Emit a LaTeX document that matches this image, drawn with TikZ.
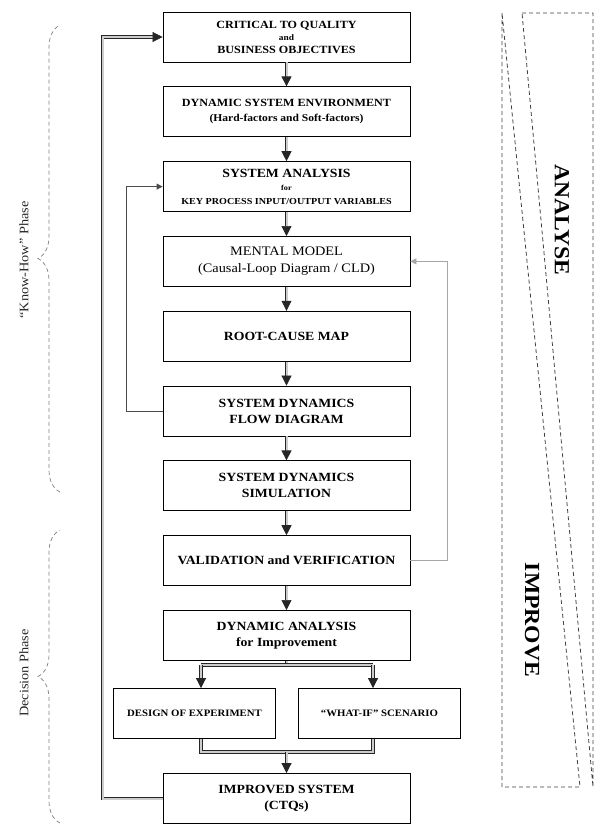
\documentclass[tikz,border=0pt]{standalone}
\usepackage{fontspec}
\setmainfont[FakeStretch=1.1]{Liberation Serif}
\usetikzlibrary{positioning,arrows.meta,decorations.pathreplacing}

\tikzset{
  box/.style={draw, line width=0.8pt, minimum width=247pt, minimum height=50pt,
    inner sep=2pt, align=center, font=\bfseries\fontsize{12.5}{16}\selectfont},
  sidebox/.style={box, minimum width=162pt, font=\bfseries\fontsize{9.8}{12}\selectfont},
  flow/.style={draw=black!85, double=gray!40, double distance=2pt, line width=0.7pt,
    -{Triangle[width=10pt,length=10pt]}},
  bar/.style={draw=black!85, double=gray!40, double distance=2pt, line width=0.7pt},
  loopline/.style={draw=black!70, line width=0.8pt, -{Triangle[width=6pt,length=6pt]}},
  phasebrace/.style={draw=gray, line width=0.7pt, dash pattern=on 4pt off 3pt,
    decorate, decoration={brace, amplitude=22pt}},
  phaselabel/.style={rotate=90, font=\fontsize{13}{15}\selectfont, text=black!85},
  stage/.style={dash pattern=on 4pt off 3pt, draw=black!75, line width=0.8pt},
  stagelabel/.style={rotate=-90, font=\bfseries\fontsize{21.5}{24}\selectfont}
}

\begin{document}
\begin{tikzpicture}[x=1pt, y=-1pt, node distance=24pt]
\useasboundingbox (0,0) rectangle (595,825);

% main chain
\node (ctq) [box, font=\bfseries\fontsize{11}{14}\selectfont] at (286.5,37) {CRITICAL TO QUALITY\\[-2pt]{\fontsize{8.5}{9}\selectfont and}\\[-1pt]BUSINESS OBJECTIVES};
\node (dse) [box, below=of ctq, font=\bfseries\fontsize{11}{15}\selectfont] {DYNAMIC SYSTEM ENVIRONMENT\\{\fontsize{10.5}{12}\selectfont (Hard-factors and Soft-factors)}};
\node (sysan) [box, below=of dse] {SYSTEM ANALYSIS\\[-3pt]{\fontsize{7.5}{8}\selectfont for}\\[-2pt]{\fontsize{9.2}{10}\selectfont KEY PROCESS INPUT/OUTPUT VARIABLES}};
\node (mental) [box, below=of sysan, font=\fontsize{13}{17}\selectfont] {MENTAL MODEL\\(Causal-Loop Diagram / CLD)};
\node (rootcause) [box, below=of mental] {ROOT-CAUSE MAP};
\node (sdflow) [box, below=of rootcause] {SYSTEM DYNAMICS\\FLOW DIAGRAM};
\node (sdsim) [box, below=of sdflow] {SYSTEM DYNAMICS\\SIMULATION};
\node (valid) [box, below=of sdsim] {VALIDATION and VERIFICATION};
\node (dynan) [box, below=of valid] {DYNAMIC ANALYSIS\\for Improvement};

\node (doe) [sidebox] at (194.5,713.5) {DESIGN OF EXPERIMENT};
\node (whatif) [sidebox] at (379.5,713.5) {``WHAT-IF'' SCENARIO};
\node (improved) [box] at (286.5,798.5) {IMPROVED SYSTEM\\(CTQs)};

\foreach \a/\b in {ctq/dse, dse/sysan, sysan/mental, mental/rootcause,
                   rootcause/sdflow, sdflow/sdsim, sdsim/valid, valid/dynan}
  \draw[flow] (\a) -- (\b);

% split and join
\coordinate (sl) at (201,665);
\coordinate (sr) at (373,665);
\coordinate (jl) at (201,752);
\coordinate (jr) at (373,752);
\draw[bar] (dynan.south) -- (dynan.south |- sl);
\draw[bar] (sl) -- (sr);
\draw[flow] (sl) -- (sl |- doe.north);
\draw[flow] (sr) -- (sr |- whatif.north);
\draw[bar] (jl |- doe.south) -- (jl) -- (jr) -- (jr |- whatif.south);
\draw[flow] (improved.north |- jl) -- (improved.north);

% feedback loops
\draw[flow] (improved.west) -- ++(-60,0) |- (ctq.west);
\draw[loopline] (sdflow.west) -- ++(-36,0) |- (sysan.west);
\draw[loopline, draw=gray!70] (valid.east) -- ++(37,0) |- (mental.east);

% phases
\draw[phasebrace] (60,492) -- (60,25);
\node (knowhow) [phaselabel] at (24,260) {``Know-How'' Phase};
\draw[phasebrace] (60,823) -- (60,530);
\node (decision) [phaselabel] at (24,673) {Decision Phase};

% analyse / improve
\draw[stage] (522,13) -- (593,13) -- (593,787) -- cycle;
\draw[stage] (502,13) -- (502,787) -- (580,787) -- cycle;
\node (analyse) [stagelabel] at (562,220) {ANALYSE};
\node (improve) [stagelabel] at (532,620) {IMPROVE};
\end{tikzpicture}
\end{document}
